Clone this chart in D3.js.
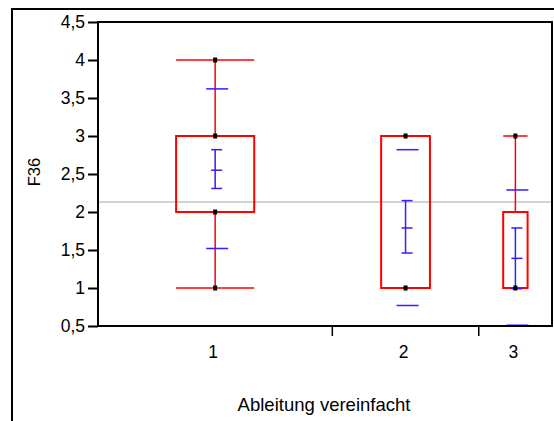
<!DOCTYPE html>
<html><head><meta charset="utf-8">
<script src="https://cdn.jsdelivr.net/npm/d3@7"></script>
<style>body{margin:0;background:#fff}svg{display:block}text{font-family:"Liberation Sans",Arial,sans-serif}</style>
</head><body>
<svg id="c" width="554" height="421"></svg>
<script>
const categories = ["1", "2", "3"];
const counts = [16, 10, 5];
const q1 = [2, 1, 1];
const median = [3, 1, 1];
const q3 = [3, 3, 2];
const whiskerLow = [1, 1, 1];
const whiskerHigh = [4, 3, 3];
const means = [2.55, 1.79, 1.39];
const seLow = [2.31, 1.46, 0.99];
const seHigh = [2.82, 2.15, 1.79];
const sdLow = [1.52, 0.77, 0.51];
const sdHigh = [3.62, 2.82, 2.29];
const points = [[1, 2, 3, 4], [1, 3], [1, 3]];
const grandMean = 2.13;
const yTicks = [0.5, 1, 1.5, 2, 2.5, 3, 3.5, 4, 4.5];

const FS = 17.5;
const svg = d3.select("#c");
const L = 98, R = 552, T = 22, B = 326;
const total = d3.sum(counts);
const x = d3.scaleLinear().domain([0, total]).range([L, R]);
const y = d3.scaleLinear().domain([0.5, 4.5]).range([B, T]);
const cum = counts.map((c, i) => d3.sum(counts.slice(0, i)));
const cx = i => x(cum[i] + counts[i] / 2);
const bw = i => (x(counts[i]) - x(0)) / 3;

svg.append("path").attr("d", `M12,421V9H554`).attr("fill", "none").attr("stroke", "#000").attr("stroke-width", 2);

svg.append("line").attr("x1", L).attr("x2", R).attr("y1", y(grandMean)).attr("y2", y(grandMean))
  .attr("stroke", "#c4c4c4").attr("stroke-width", 1.5);

const red = "#ff0000", blue = "#3a1aff";
categories.forEach((c, i) => {
  const g = svg.append("g");
  const xc = cx(i), w = bw(i);
  g.append("line").attr("x1", xc).attr("x2", xc).attr("y1", y(q3[i])).attr("y2", y(whiskerHigh[i])).attr("stroke", red).attr("stroke-width", 1.5);
  g.append("line").attr("x1", xc).attr("x2", xc).attr("y1", y(q1[i])).attr("y2", y(whiskerLow[i])).attr("stroke", red).attr("stroke-width", 1.5);
  [whiskerHigh[i], whiskerLow[i]].forEach(v => {
    g.append("line").attr("x1", xc - w / 2).attr("x2", xc + w / 2).attr("y1", y(v)).attr("y2", y(v)).attr("stroke", red).attr("stroke-width", 1.5);
  });
  g.append("rect").attr("x", xc - w / 2).attr("width", w).attr("y", y(q3[i])).attr("height", y(q1[i]) - y(q3[i]))
    .attr("fill", "none").attr("stroke", red).attr("stroke-width", 2);
  g.append("line").attr("x1", xc - w / 2).attr("x2", xc + w / 2).attr("y1", y(median[i])).attr("y2", y(median[i])).attr("stroke", red).attr("stroke-width", 2);
  [sdHigh[i], sdLow[i]].forEach(v => {
    g.append("line").attr("x1", xc - 9).attr("x2", xc + 13).attr("y1", y(v)).attr("y2", y(v)).attr("stroke", blue).attr("stroke-width", 1.5);
  });
  g.append("line").attr("x1", xc).attr("x2", xc).attr("y1", y(seHigh[i])).attr("y2", y(seLow[i])).attr("stroke", blue).attr("stroke-width", 1.5);
  [seHigh[i], means[i], seLow[i]].forEach(v => {
    g.append("line").attr("x1", xc - 4).attr("x2", xc + 7).attr("y1", y(v)).attr("y2", y(v)).attr("stroke", blue).attr("stroke-width", 1.5);
  });
  points[i].forEach(v => {
    g.append("rect").attr("x", xc - 2).attr("y", y(v) - 2.5).attr("width", 4).attr("height", 5).attr("fill", "#000");
  });
});

svg.append("rect").attr("x", L).attr("y", T).attr("width", R - L).attr("height", B - T)
  .attr("fill", "none").attr("stroke", "#000").attr("stroke-width", 2);

const ya = svg.append("g").attr("transform", `translate(${L},0)`)
  .call(d3.axisLeft(y).tickValues(yTicks).tickSize(10).tickPadding(3).tickFormat(d => String(d).replace(".", ",")));
ya.select(".domain").remove();
ya.selectAll("line").attr("stroke", "#000").attr("stroke-width", 2);
ya.selectAll("text").attr("font-size", FS).attr("fill", "#000").attr("font-family", "Liberation Sans, Arial, sans-serif");

cum.slice(1).forEach(v => {
  svg.append("line").attr("x1", x(v)).attr("x2", x(v)).attr("y1", B).attr("y2", B + 10).attr("stroke", "#000").attr("stroke-width", 1.5);
});
categories.forEach((c, i) => {
  svg.append("text").attr("x", cx(i) - 2).attr("y", 358).attr("text-anchor", "middle").attr("font-size", FS).text(c);
});

svg.append("text").attr("x", 324).attr("y", 411).attr("text-anchor", "middle").attr("font-size", 18.5).text("Ableitung vereinfacht");
svg.append("text").attr("transform", `translate(40,172) rotate(-90)`).attr("text-anchor", "middle").attr("font-size", 16.5).text("F36");
</script>
</body></html>
